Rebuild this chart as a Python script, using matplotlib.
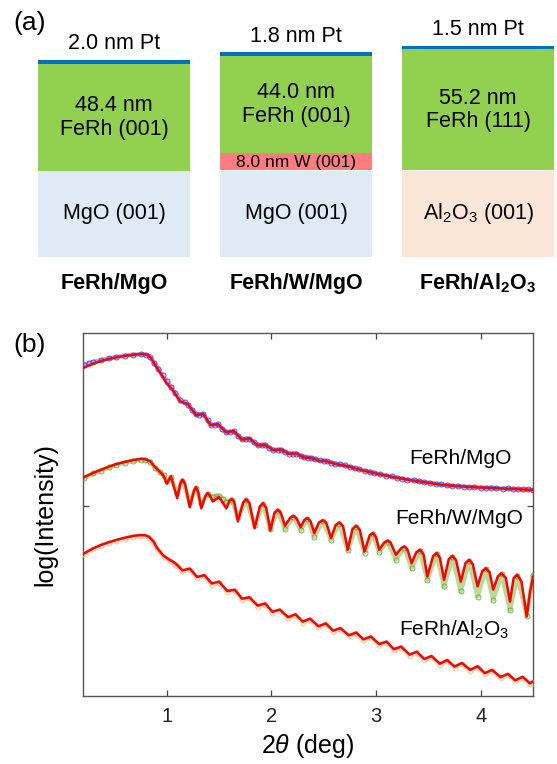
import matplotlib
matplotlib.use('Agg')
import matplotlib.pyplot as plt
from matplotlib.patches import Rectangle

plt.rcParams['font.family'] = ['Liberation Sans', 'DejaVu Sans']
plt.rcParams['mathtext.fontset'] = 'custom'
plt.rcParams['mathtext.rm'] = 'Liberation Sans'
plt.rcParams['mathtext.it'] = 'Liberation Sans:italic'
plt.rcParams['mathtext.bf'] = 'Liberation Sans:bold'

# ---- (a) layer stacks ----
sample_names = ['FeRh/MgO', 'FeRh/W/MgO', r'$\mathbf{FeRh/Al_2O_3}$']
pt_nm = [2.0, 1.8, 1.5]
ferh_nm = [48.4, 44.0, 55.2]
ferh_orient = ['(001)', '(001)', '(111)']
w_nm = [0.0, 8.0, 0.0]
substrates = ['MgO (001)', 'MgO (001)', r'Al$_2$O$_3$ (001)']
sub_colors = ['#deebf7', '#deebf7', '#fbe5d6']

# ---- (b) reflectivity, log(I) in arbitrary offset units ----
mgo_fit_x = [0.21, 0.30, 0.37, 0.45, 0.52, 0.60, 0.68, 0.75, 0.79, 0.82, 0.85, 0.89, 0.95, 1.00,
             1.05, 1.13, 1.20, 1.28, 1.35, 1.42, 1.49, 1.57, 1.64, 1.72, 1.79, 1.87, 1.94, 2.02,
             2.09, 2.17, 2.24, 2.31, 2.38, 2.46, 2.53, 2.61, 2.70, 2.84, 2.98, 3.15, 3.30, 3.46,
             3.62, 3.78, 3.94, 4.10, 4.26, 4.40, 4.50]
mgo_fit_y = [3.82, 3.93, 4.00, 4.06, 4.10, 4.14, 4.17, 4.19, 4.19, 4.16, 4.08, 3.89, 3.62, 3.38,
             3.23, 2.88, 2.82, 2.51, 2.54, 2.23, 2.26, 2.03, 2.07, 1.83, 1.87, 1.67, 1.69, 1.54,
             1.56, 1.44, 1.45, 1.34, 1.33, 1.25, 1.24, 1.16, 1.12, 1.01, 0.91, 0.81, 0.73, 0.66,
             0.59, 0.55, 0.52, 0.50, 0.48, 0.46, 0.45]
mgo_meas_x = [0.21, 0.26, 0.30, 0.37, 0.45, 0.52, 0.60, 0.68, 0.75, 0.80, 0.84, 0.88, 0.92, 0.96,
              1.00, 1.04, 1.08, 1.13, 1.17, 1.20, 1.24, 1.28, 1.31, 1.35, 1.39, 1.42, 1.46, 1.49,
              1.53, 1.57, 1.60, 1.64, 1.68, 1.72, 1.76, 1.79, 1.83, 1.87, 1.91, 1.94, 1.98, 2.02,
              2.06, 2.09, 2.13, 2.17, 2.21, 2.24, 2.28, 2.31, 2.35, 2.38, 2.42, 2.46, 2.50, 2.53,
              2.57, 2.61, 2.66, 2.70, 2.75, 2.80, 2.84, 2.89, 2.94, 2.98, 3.04, 3.10, 3.15, 3.20,
              3.25, 3.30, 3.36, 3.41, 3.46, 3.52, 3.57, 3.62, 3.68, 3.73, 3.78, 3.84, 3.89, 3.94,
              4.00, 4.05, 4.10, 4.15, 4.21, 4.26, 4.31, 4.36, 4.40, 4.45, 4.50]
mgo_meas_y = [3.89, 3.94, 3.97, 4.02, 4.07, 4.11, 4.15, 4.17, 4.18, 4.17, 4.10, 3.95, 3.78, 3.60,
              3.44, 3.28, 3.12, 2.92, 2.86, 2.80, 2.66, 2.53, 2.52, 2.53, 2.36, 2.24, 2.24, 2.25,
              2.12, 2.04, 2.04, 2.06, 1.94, 1.84, 1.85, 1.86, 1.76, 1.68, 1.68, 1.69, 1.61, 1.55,
              1.55, 1.56, 1.49, 1.45, 1.45, 1.45, 1.39, 1.35, 1.34, 1.33, 1.29, 1.26, 1.25, 1.24,
              1.20, 1.17, 1.15, 1.12, 1.09, 1.04, 1.02, 0.97, 0.95, 0.91, 0.88, 0.84, 0.82, 0.78,
              0.76, 0.73, 0.71, 0.69, 0.66, 0.64, 0.62, 0.60, 0.57, 0.56, 0.55, 0.54, 0.52, 0.53,
              0.51, 0.50, 0.51, 0.49, 0.48, 0.49, 0.47, 0.47, 0.46, 0.46, 0.44]

w_fit_x = [0.21, 0.30, 0.37, 0.45, 0.52, 0.60, 0.68, 0.75, 0.79, 0.84, 0.89, 0.94, 0.97, 1.00,
           1.04, 1.10, 1.13, 1.15, 1.175, 1.22, 1.26, 1.28, 1.30, 1.33, 1.37, 1.39, 1.41, 1.44,
           1.50, 1.57, 1.60, 1.62, 1.645, 1.68, 1.73, 1.76, 1.79, 1.84, 1.89, 1.92, 1.95, 1.99,
           2.03, 2.06, 2.09, 2.13, 2.18, 2.21, 2.24, 2.28, 2.315, 2.345, 2.375, 2.41, 2.455,
           2.49, 2.525, 2.57, 2.615, 2.65, 2.685, 2.73, 2.775, 2.81, 2.845, 2.89, 2.94, 2.97,
           3.00, 3.03, 3.08, 3.11, 3.14, 3.19, 3.24, 3.27, 3.30, 3.34, 3.385, 3.42, 3.455, 3.49,
           3.545, 3.58, 3.61, 3.65, 3.695, 3.73, 3.765, 3.81, 3.855, 3.89, 3.925, 3.97, 4.015,
           4.05, 4.085, 4.12, 4.165, 4.20, 4.24, 4.28, 4.315, 4.35, 4.39, 4.44, 4.47, 4.50]
w_fit_y = [0.80, 0.92, 1.00, 1.09, 1.16, 1.22, 1.27, 1.30, 1.30, 1.24, 1.07, 0.93, 0.84, 0.62,
           0.82, 0.22, 0.62, 0.73, 0.62, -0.03, 0.42, 0.52, 0.40, -0.06, 0.28, 0.36, 0.30, 0.13,
           0.25, -0.06, 0.15, 0.20, 0.12, -0.42, 0.10, 0.19, 0.09, -0.61, -0.01, 0.08, -0.04, -0.67,
           -0.18, -0.10, -0.18, -0.54, -0.32, -0.27, -0.33, -0.58, -0.38, -0.33, -0.42, -0.74, -0.45,
           -0.39, -0.46, -0.88, -0.52, -0.45, -0.55, -1.20, -0.63, -0.54, -0.65, -1.25, -0.80, -0.74,
           -0.85, -1.20, -1.00, -0.95, -1.01, -1.34, -1.16, -1.11, -1.19, -1.57, -1.27, -1.20, -1.33,
           -1.94, -1.38, -1.29, -1.42, -2.03, -1.46, -1.37, -1.49, -2.08, -1.57, -1.48, -1.60, -2.21,
           -1.79, -1.71, -1.82, -2.30, -1.93, -1.85, -1.98, -2.63, -1.98, -1.89, -2.08, -3.04, -2.40,
           -1.95]
w_meas_x = [0.21, 0.30, 0.37, 0.45, 0.52, 0.60, 0.68, 0.75, 0.79, 0.84, 0.89, 0.94, 0.97, 1.00,
            1.04, 1.10, 1.15, 1.22, 1.28, 1.33, 1.39, 1.44, 1.47, 1.50, 1.54, 1.57, 1.62, 1.68,
            1.76, 1.84, 1.92, 1.99, 2.06, 2.13, 2.21, 2.28, 2.345, 2.41, 2.49, 2.57, 2.65, 2.73,
            2.81, 2.89, 2.97, 3.03, 3.11, 3.19, 3.27, 3.34, 3.42, 3.49, 3.58, 3.65, 3.73, 3.81,
            3.89, 3.97, 4.05, 4.12, 4.20, 4.28, 4.35, 4.44, 4.50]
w_meas_y = [0.78, 0.90, 0.98, 1.07, 1.14, 1.20, 1.25, 1.28, 1.28, 1.23, 1.06, 0.93, 0.85, 0.68,
            0.80, 0.35, 0.70, 0.12, 0.50, 0.08, 0.33, 0.24, 0.27, 0.27, 0.20, 0.12, 0.18, -0.30,
            0.16, -0.52, 0.05, -0.62, -0.12, -0.63, -0.30, -0.65, -0.36, -0.84, -0.42, -0.92, -0.48,
            -1.22, -0.57, -1.28, -0.77, -1.25, -0.98, -1.48, -1.14, -1.71, -1.23, -2.03, -1.32,
            -2.21, -1.40, -2.35, -1.51, -2.49, -1.74, -2.58, -1.88, -2.86, -1.92, -3.02, -1.90]

al_x = [0.21, 0.30, 0.37, 0.45, 0.52, 0.60, 0.68, 0.74, 0.79, 0.83, 0.87, 0.91, 0.97, 1.03, 1.07,
        1.10, 1.15, 1.22, 1.29, 1.36, 1.43, 1.50, 1.58, 1.65, 1.72, 1.79, 1.87, 1.94, 2.01, 2.08,
        2.16, 2.23, 2.30, 2.37, 2.45, 2.52, 2.59, 2.66, 2.74, 2.81, 2.88, 2.95, 3.03, 3.10, 3.17,
        3.24, 3.32, 3.39, 3.46, 3.53, 3.61, 3.68, 3.75, 3.82, 3.90, 3.97, 4.04, 4.11, 4.19, 4.26,
        4.33, 4.40, 4.47, 4.50]
al_fit_y = [-1.30, -1.16, -1.07, -0.99, -0.93, -0.87, -0.82, -0.80, -0.80, -0.84, -0.96, -1.16,
            -1.37, -1.48, -1.55, -1.62, -1.77, -1.72, -1.95, -1.90, -2.13, -2.08, -2.34, -2.30,
            -2.55, -2.51, -2.74, -2.68, -2.91, -2.85, -3.06, -2.98, -3.18, -3.10, -3.31, -3.23,
            -3.43, -3.36, -3.56, -3.48, -3.67, -3.59, -3.80, -3.73, -3.94, -3.87, -4.09, -4.01,
            -4.21, -4.13, -4.34, -4.24, -4.42, -4.32, -4.51, -4.41, -4.60, -4.51, -4.71, -4.62,
            -4.80, -4.70, -4.88, -4.83]
al_meas_y = [-1.33, -1.19, -1.10, -1.02, -0.96, -0.90, -0.85, -0.83, -0.83, -0.87, -0.99, -1.19,
             -1.40, -1.51, -1.58, -1.65, -1.80, -1.75, -1.98, -1.93, -2.16, -2.11, -2.37, -2.33,
             -2.58, -2.54, -2.77, -2.71, -2.94, -2.88, -3.09, -3.01, -3.21, -3.13, -3.34, -3.26,
             -3.46, -3.39, -3.59, -3.51, -3.70, -3.62, -3.83, -3.76, -3.97, -3.90, -4.12, -4.04,
             -4.24, -4.16, -4.37, -4.27, -4.45, -4.35, -4.54, -4.44, -4.63, -4.54, -4.74, -4.65,
             -4.83, -4.73, -4.91, -4.86]

W, H = 557, 764
fig = plt.figure(figsize=(W / 100, H / 100), dpi=100)

# full-figure pixel axes for panel (a) and the loose labels
ax0 = fig.add_axes([0, 0, 1, 1])
ax0.set_xlim(0, W)
ax0.set_ylim(H, 0)
ax0.axis('off')

box_left = [38, 220, 402]
box_w = 152
sub_top, sub_h = 170.5, 86.5
px_per_nm = 2.2
fs = 15.5

for i in range(3):
    x0 = box_left[i]
    xc = x0 + box_w / 2
    ax0.add_patch(Rectangle((x0, sub_top), box_w, sub_h, fc=sub_colors[i], ec='none'))
    ax0.text(xc, sub_top + sub_h / 2, substrates[i], ha='center', va='center', fontsize=fs)
    y = sub_top
    if w_nm[i] > 0:
        h = w_nm[i] * px_per_nm
        y -= h
        ax0.add_patch(Rectangle((x0, y), box_w, h, fc='#ff7c80', ec='none'))
        ax0.text(xc, y + h / 2 + 0.5, f'{w_nm[i]:.1f} nm W (001)', ha='center', va='center',
                 fontsize=12.5)
    h = ferh_nm[i] * px_per_nm
    y -= h
    ax0.add_patch(Rectangle((x0, y), box_w, h, fc='#92d050', ec='none'))
    ax0.text(xc, y + h / 2 - 11.5, f'{ferh_nm[i]:.1f} nm', ha='center', va='center', fontsize=fs)
    ax0.text(xc, y + h / 2 + 12, f'FeRh {ferh_orient[i]}', ha='center', va='center', fontsize=fs)
    h = pt_nm[i] * px_per_nm
    y -= h
    ax0.add_patch(Rectangle((x0, y), box_w, h, fc='#0070c0', ec='none'))
    ax0.text(xc, y - 16, f'{pt_nm[i]:.1f} nm Pt', ha='center', va='center', fontsize=fs)
    ax0.text(xc, 283, sample_names[i], ha='center', va='center', fontsize=fs, fontweight='bold')

ax0.text(30, 23, '(a)', ha='center', va='center', fontsize=19)
ax0.text(30, 345, '(b)', ha='center', va='center', fontsize=19)
ax0.text(45, 515, 'log(Intensity)', ha='center', va='center', rotation=90, fontsize=18)
ax0.text(308, 746, r'2$\theta$ (deg)', ha='center', va='center', fontsize=18)

# ---- panel (b) ----
ax = fig.add_axes([83 / W, 1 - 696 / H, 450 / W, 363 / H])

series = [
    (mgo_meas_x, mgo_meas_y, mgo_fit_x, mgo_fit_y, '#3a3af5', '#9a9aff'),
    (w_meas_x, w_meas_y, w_fit_x, w_fit_y, '#6aa632', '#a8d07c'),
    (al_x, al_meas_y, al_x, al_fit_y, '#e6c596', '#f2dcbc'),
]
for mx, my, fx, fy, mc, bc in series:
    ax.plot(mx, my, '-', color=bc, lw=3.2, alpha=0.8, solid_capstyle='round', zorder=2)
    ax.plot(mx, my, 'o', mfc='none', mec=mc, ms=3.6, mew=0.7, alpha=0.85, zorder=3)
    ax.plot(fx, fy, '-', color='#ff0000', lw=1.8, solid_joinstyle='round', zorder=4)

ax.text(3.81, 1.32, 'FeRh/MgO', ha='center', va='center', fontsize=15)
ax.text(3.79, -0.33, 'FeRh/W/MgO', ha='center', va='center', fontsize=15)
ax.text(3.75, -3.40, r'FeRh/Al$_2$O$_3$', ha='center', va='center', fontsize=15)

ax.set_xlim(0.2, 4.5)
ax.set_ylim(-5.23, 4.77)
ax.set_xticks([1, 2, 3, 4])
ax.set_yticks([0])
ax.set_yticklabels([])
ax.tick_params(direction='in', top=True, right=True, length=4, width=0.9, colors='#444444',
               labelsize=14.5, labelcolor='#222222', pad=8)
for s in ax.spines.values():
    s.set_color('#555555')
    s.set_linewidth(1.0)

fig.savefig('out.png', dpi=100)
